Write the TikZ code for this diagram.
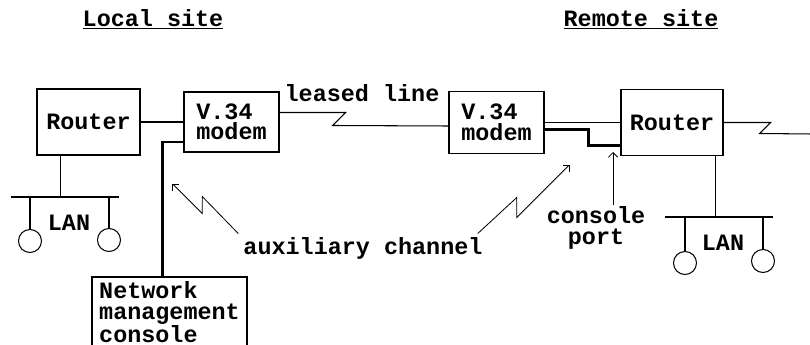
\documentclass[tikz,border=0pt]{standalone}
\usepackage{fontspec}
\setmonofont{Liberation Mono}
\usetikzlibrary{arrows.meta}

\begin{document}
\begin{tikzpicture}[x=0.03cm, y=-0.03cm,
  every node/.style={font=\ttfamily\bfseries\fontsize{20}{17.5}\selectfont},
  b/.style={draw, line width=0.9pt, inner sep=0pt},
  l/.style={line width=0.9pt},
  t/.style={line width=2.4pt},
  c/.style={draw, circle, line width=0.9pt, minimum size=0.69cm, inner sep=0pt},
  a/.style={line width=0.7pt, -{Straight Barb[length=4pt, width=8pt]}}]
\useasboundingbox (0,0) rectangle (810,345);
\clip (0,0) rectangle (810,345);
% sites
\node (loc) at (153,19) {\underline{Local site}};
\node (rem) at (641,19) {\underline{Remote site}};
% local side
\node[b, minimum width=3.09cm, minimum height=1.98cm] (lrt) at (88.5,122) {Router};
\node[b, minimum width=2.85cm, minimum height=1.8cm, align=left] (lmd) at (231.5,122) {V.34\\modem};
\node[b, minimum width=4.65cm, minimum height=2.1cm, align=left] (nmc) at (169.5,312) {Network\\management\\console};
\coordinate (lbl) at (11,197);
\coordinate (lbr) at (119,197);
\node[c] (lt1) at (30,241) {};
\node[c] (lt2) at (109,240) {};
\node (llan) at (69,223) {LAN};
% remote side
\node[b, minimum width=2.85cm, minimum height=1.86cm, align=left] (rmd) at (496.5,122.5) {V.34\\modem};
\node[b, minimum width=3.06cm, minimum height=1.98cm] (rrt) at (672,122.5) {Router};
\coordinate (rbl) at (665,217);
\coordinate (rbr) at (773,217);
\node[c] (rt1) at (685,263) {};
\node[c] (rt2) at (763,261) {};
\node (rlan) at (723,243) {LAN};
\coordinate (wan) at (812,134);
% labels
\node (lease) at (362,93) {leased line};
\node[inner sep=0pt] (aux) at (363,248) {auxiliary channel};
\node[align=center, inner sep=1pt] (cport) at (596,228) {console\\port};
\coordinate (cptip) at (613,152);
% links
\draw[l] (lrt.east) -- (lmd.west);
\draw[l] ([yshift=0.285cm]lmd.east) -- ++(66,0) -- ++(-13,13) -- ([yshift=-0.105cm]rmd.west);
\draw[l] (rmd.east) -- (rrt.west);
\draw[l] (rrt.east) -- ++(47,0) -- ++(-11,11) -- (wan);
\draw[t] ([yshift=-0.6cm]lmd.west) -| ([xshift=-0.2cm]nmc.north);
\draw[t] ([yshift=-0.21cm]rmd.east) -- ++(44,0) |- ([yshift=-0.69cm]rrt.west);
% LANs
\draw[l] (lbl) -- (lbr);
\draw[l] ([xshift=0.72cm]lrt.south west) -- ([xshift=0.72cm]lrt.south west |- lbl);
\draw[l] (lt1) -- (lt1 |- lbl);
\draw[l] (lt2) -- (lt2 |- lbl);
\draw[l] (rbl) -- (rbr);
\draw[l] ([xshift=-0.24cm]rrt.south east) -- ([xshift=-0.24cm]rrt.south east |- rbl);
\draw[l] (rt1) -- (rt1 |- rbl);
\draw[l] (rt2) -- (rt2 |- rbl);
% arrows
\draw[a] ([xshift=-0.15cm,yshift=0.1cm]aux.north west) -- ++(-36,-37) -- ++(0,17) -- ++(-30,-30);
\draw[a] ([xshift=-0.15cm,yshift=0.1cm]aux.north east) -- ++(39,-36) -- ++(0,20) -- ++(53,-53);
\draw[a] (cptip |- cport.north) -- (cptip);
\end{tikzpicture}
\end{document}
